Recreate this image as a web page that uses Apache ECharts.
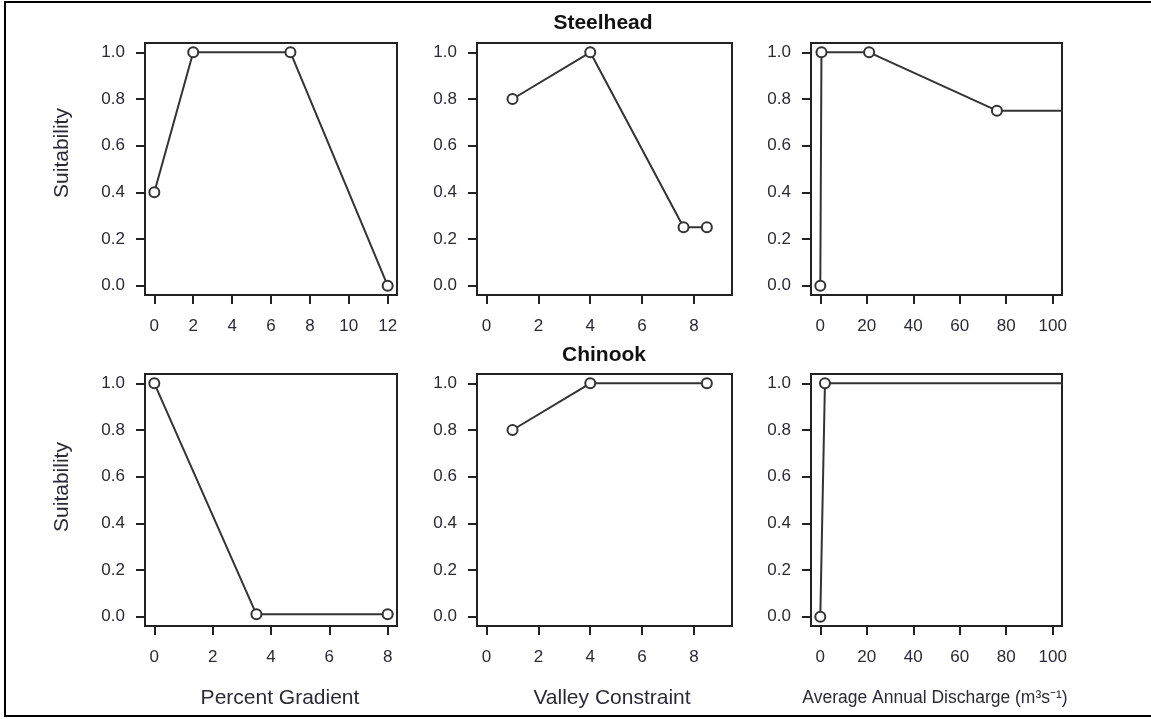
<!DOCTYPE html>
<html>
<head>
<meta charset="utf-8">
<script src="https://cdn.jsdelivr.net/npm/echarts@6/dist/echarts.min.js"></script>
<style>
html,body{margin:0;padding:0;background:#fff;}
#chart{width:1151px;height:719px;}
</style>
</head>
<body>
<div id="chart"></div>
<script>
// ---- Data ----
const steelGradX = [0, 2, 7, 12];
const steelGradY = [0.4, 1.0, 1.0, 0.0];
const steelValleyX = [1, 4, 7.6, 8.5];
const steelValleyY = [0.8, 1.0, 0.25, 0.25];
const steelDischX = [0, 0.5, 21, 76, 150];
const steelDischY = [0.0, 1.0, 1.0, 0.75, 0.75];
const chinGradX = [0, 3.5, 8];
const chinGradY = [1.0, 0.01, 0.01];
const chinValleyX = [1, 4, 8.5];
const chinValleyY = [0.8, 1.0, 1.0];
const chinDischX = [0, 2, 150];
const chinDischY = [0.0, 1.0, 1.0];

const gradTicksTop = [0, 2, 4, 6, 8, 10, 12];
const gradTicksBottom = [0, 2, 4, 6, 8];
const valleyTicks = [0, 2, 4, 6, 8];
const dischTicks = [0, 20, 40, 60, 80, 100];
const suitTicks = [0, 0.2, 0.4, 0.6, 0.8, 1.0];

const speciesTitles = ['Steelhead', 'Chinook'];
const xTitles = ['Percent Gradient', 'Valley Constraint', 'Average Annual Discharge (m³s⁻¹)'];
const yTitle = 'Suitability';

// ---- Layout ----
const rowTop = [43, 374];
const rowH = 252;
const colLeft = [145, 477, 811];
const colW = [252, 255, 251];

const panels = [
  {r:0, c:0, xs: steelGradX, ys: steelGradY, ticks: gradTicksTop, min: -0.48, max: 12.48},
  {r:0, c:1, xs: steelValleyX, ys: steelValleyY, ticks: valleyTicks, min: -0.37, max: 9.47},
  {r:0, c:2, xs: steelDischX, ys: steelDischY, ticks: dischTicks, min: -4, max: 104},
  {r:1, c:0, xs: chinGradX, ys: chinGradY, ticks: gradTicksBottom, min: -0.32, max: 8.32},
  {r:1, c:1, xs: chinValleyX, ys: chinValleyY, ticks: valleyTicks, min: -0.37, max: 9.47},
  {r:1, c:2, xs: chinDischX, ys: chinDischY, ticks: dischTicks, min: -4, max: 104}
];

const FONT = 'Liberation Sans, Arial, sans-serif';
const ink = '#222';
const labelColor = '#2a2a38';

const grids = [], xAxes = [], yAxes = [], series = [];
panels.forEach((p, i) => {
  grids.push({
    left: colLeft[p.c], top: rowTop[p.r], width: colW[p.c], height: rowH,
    show: true, borderColor: ink, borderWidth: 2, backgroundColor: 'transparent'
  });
  xAxes.push({
    type: 'value', gridIndex: i, min: p.min, max: p.max, position: 'bottom',
    axisLine: {show: false, onZero: false},
    splitLine: {show: false},
    axisTick: {show: true, inside: false, length: 9, lineStyle: {color: ink, width: 2}, customValues: p.ticks},
    axisLabel: {show: true, margin: 23, color: labelColor, fontSize: 17, fontFamily: FONT, customValues: p.ticks,
      formatter: v => String(v)}
  });
  yAxes.push({
    type: 'value', gridIndex: i, min: -0.04, max: 1.04, position: 'left',
    axisLine: {show: false, onZero: false},
    splitLine: {show: false},
    axisTick: {show: true, inside: false, length: 9, lineStyle: {color: ink, width: 2}, customValues: suitTicks},
    axisLabel: {show: true, margin: 20, color: labelColor, fontSize: 17, fontFamily: FONT, customValues: suitTicks,
      formatter: v => Number(v).toFixed(1)}
  });
  series.push({
    type: 'line', xAxisIndex: i, yAxisIndex: i, clip: true,
    symbol: 'emptyCircle', symbolSize: 10,
    lineStyle: {color: '#333', width: 2},
    itemStyle: {color: '#333', borderColor: '#333', borderWidth: 2},
    data: p.xs.map((x, k) => {
      const item = {value: [x, p.ys[k]]};
      if (x > p.max) item.symbolSize = 0;
      return item;
    }),
    animation: false, silent: true
  });
});

const graphics = [
  {type: 'rect', shape: {x: 5, y: 2, width: 1160, height: 714}, style: {fill: 'none', stroke: '#000', lineWidth: 2}, silent: true},
  {type: 'text', x: 603, y: 23, style: {text: speciesTitles[0], font: 'bold 21px ' + FONT, fill: '#111', align: 'center', verticalAlign: 'middle'}},
  {type: 'text', x: 604, y: 355, style: {text: speciesTitles[1], font: 'bold 21px ' + FONT, fill: '#111', align: 'center', verticalAlign: 'middle'}},
  {type: 'text', x: 62, y: 153, rotation: Math.PI / 2, style: {text: yTitle, font: '21px ' + FONT, fill: labelColor, align: 'center', verticalAlign: 'middle'}},
  {type: 'text', x: 62, y: 487, rotation: Math.PI / 2, style: {text: yTitle, font: '21px ' + FONT, fill: labelColor, align: 'center', verticalAlign: 'middle'}},
  {type: 'text', x: 280, y: 698, style: {text: xTitles[0], font: '21px ' + FONT, fill: labelColor, align: 'center', verticalAlign: 'middle'}},
  {type: 'text', x: 612, y: 698, style: {text: xTitles[1], font: '21px ' + FONT, fill: labelColor, align: 'center', verticalAlign: 'middle'}},
  {type: 'text', x: 935, y: 698, style: {text: xTitles[2], font: '17.5px ' + FONT, fill: labelColor, align: 'center', verticalAlign: 'middle'}}
];

const chart = echarts.init(document.getElementById('chart'), null, {renderer: 'canvas'});
chart.setOption({
  backgroundColor: '#fff',
  animation: false,
  grid: grids,
  xAxis: xAxes,
  yAxis: yAxes,
  series: series,
  graphic: graphics
});
</script>
</body>
</html>
